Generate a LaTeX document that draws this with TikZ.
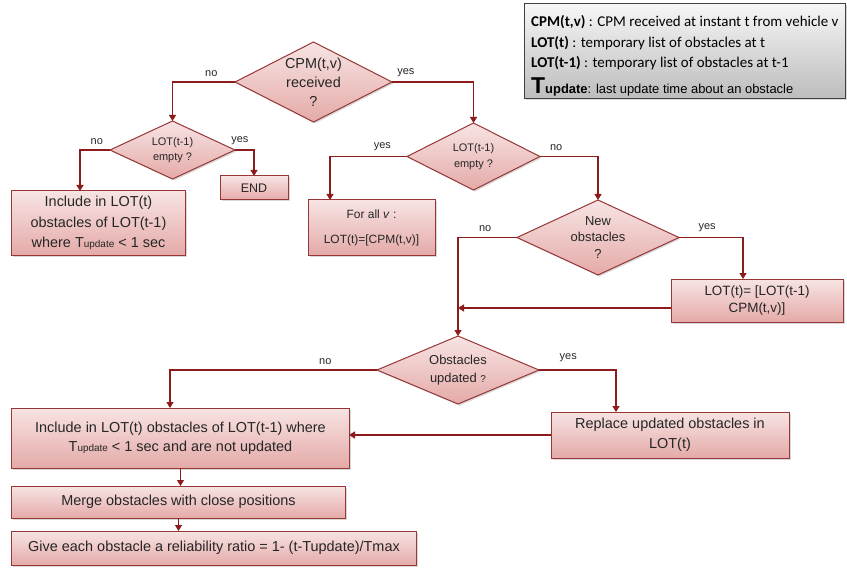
\documentclass[tikz,border=0pt]{standalone}
\usepackage{fontspec}
\setmainfont{Liberation Sans}
\newfontfamily\legendfont{Carlito}
\usetikzlibrary{shapes.geometric,arrows.meta,shadows}
\definecolor{boxline}{RGB}{150,55,53}
\definecolor{flowline}{RGB}{140,28,28}
\definecolor{boxtop}{RGB}{247,228,227}
\definecolor{boxbottom}{RGB}{228,170,168}
\definecolor{legtop}{RGB}{246,246,246}
\definecolor{legbottom}{RGB}{188,188,188}
\definecolor{txt}{RGB}{38,38,38}
\newcommand{\Tupd}{T{\fontsize{10}{10}\selectfont update}}

\begin{document}
\begin{tikzpicture}[x=1bp,y=-1bp,
        box/.style={rectangle, draw=boxline, line width=1bp,
            top color=boxtop, bottom color=boxbottom, text=txt,
            align=center, inner sep=0pt, outer sep=0pt,
            drop shadow={shadow xshift=1.5bp, shadow yshift=-1.5bp, opacity=.3}},
        decision/.style={box, diamond, aspect=2},
        flow/.style={draw=flowline, line width=1.2bp,
            -{Triangle[width=7bp,length=6bp]}},
        lbl/.style={text=txt, font=\fontsize{11}{11}\selectfont,
            inner sep=0pt, above=5bp},
        legendbox/.style={rectangle, draw=black!75, line width=1bp,
            top color=legtop, bottom color=legbottom,
            drop shadow={shadow xshift=1.5bp, shadow yshift=-1.5bp, opacity=.3}},
        legendtext/.style={anchor=base west, inner sep=0pt, text=black,
            font=\legendfont\fontsize{15}{15}\selectfont}]
    \useasboundingbox (0,0) rectangle (847,568);

    % Legend.
    \node[legendbox, minimum width=321bp, minimum height=95bp] (legend) at (684.5,51.5) {};
    \node[legendtext] (leg1) at (531,27)
        {\textbf{CPM(t,v)} : CPM received at instant t from vehicle v};
    \node[legendtext] (leg2) at (531,48)
        {\textbf{LOT(t)} : temporary list of obstacles at t};
    \node[legendtext] (leg3) at (531,68)
        {\textbf{LOT(t-1)} : temporary list of obstacles at t-1};
    \node[legendtext, font=\fontsize{13}{13}\selectfont] (leg4) at (531,94)
        {{\fontsize{23}{23}\selectfont\textbf{T}}\textbf{update}: last update time about an obstacle};

    % Decisions.
    \node[decision, minimum width=157bp, minimum height=80bp,
        font=\fontsize{14.5}{19}\selectfont] (recv) at (313.5,82) {CPM(t,v)\\received\\?};
    \node[decision, minimum width=125bp, minimum height=58bp,
        font=\fontsize{11}{15}\selectfont] (emptyA) at (172.5,150) {LOT(t-1)\\empty ?};
    \node[decision, minimum width=133bp, minimum height=67bp,
        font=\fontsize{11}{16}\selectfont] (emptyB) at (473.5,156.5) {LOT(t-1)\\empty ?};
    \node[decision, minimum width=162bp, minimum height=75bp,
        font=\fontsize{13}{16.5}\selectfont] (newobs) at (598,237.5) {New\\obstacles\\?};
    \node[decision, minimum width=162bp, minimum height=68bp,
        font=\fontsize{13}{18}\selectfont] (updobs) at (458,370)
        {Obstacles\\updated {\fontsize{10}{10}\selectfont ?}};

    % Actions.
    \node[box, minimum width=173bp, minimum height=64bp,
        font=\fontsize{14.5}{20.5}\selectfont] (keepold) at (98.5,223)
        {Include in LOT(t)\\obstacles of LOT(t-1)\\where \Tupd{} < 1 sec};
    \node[box, minimum width=68bp, minimum height=24bp,
        font=\fontsize{12.5}{12.5}\selectfont] (stop) at (254,188) {END};
    \node[box, minimum width=127bp, minimum height=55bp,
        font=\fontsize{12}{25}\selectfont] (forall) at (371.5,227.5)
        {For all \textit{v} :\\LOT(t)=[CPM(t,v)]};
    \node[box, minimum width=172bp, minimum height=43bp,
        font=\fontsize{13.5}{17}\selectfont] (addnew) at (757,300.5)
        {LOT(t)= [LOT(t-1)\\CPM(t,v)]};
    \node[box, minimum width=238bp, minimum height=46bp,
        font=\fontsize{14.5}{20}\selectfont] (replace) at (670,435)
        {Replace updated obstacles in\\LOT(t)};
    \node[box, minimum width=337bp, minimum height=60bp,
        font=\fontsize{14.5}{19}\selectfont] (keepall) at (180.5,438)
        {Include in LOT(t) obstacles of LOT(t-1) where\\\Tupd{} < 1 sec and are not updated};
    \node[box, minimum width=333bp, minimum height=32bp,
        font=\fontsize{14.5}{14.5}\selectfont] (merge) at (178.5,502)
        {Merge obstacles with close positions};
    \node[box, minimum width=404bp, minimum height=34bp,
        font=\fontsize{14.5}{14.5}\selectfont] (ratio) at (214,548)
        {Give each obstacle a reliability ratio = 1- (t-Tupdate)/Tmax};

    % Connectors.
    \draw[flow] (recv.west) -| node[lbl, pos=.19] {no} (emptyA.north);
    \draw[flow] (recv.east) -| node[lbl, pos=.085] {yes} (emptyB.north);
    \draw[flow] (emptyA.west) -| node[lbl, pos=.22] {no} ([xshift=-18.5bp]keepold.north);
    \draw[flow] (emptyA.east) -| node[lbl, pos=.13] {yes} (stop.north);
    \draw[flow] (emptyB.west) -| node[lbl, pos=.16] {yes} ([xshift=-41.5bp]forall.north);
    \draw[flow] (emptyB.east) -| node[lbl, pos=.14] {no} (newobs.north);
    \draw[flow] (newobs.west) -| node[lbl, pos=.27] {no} (updobs.north);
    \draw[flow] (newobs.east) -| node[lbl, pos=.22] {yes} ([xshift=-14bp]addnew.north);
    \draw[flow] ([yshift=-7.5bp]addnew.west) -- ([yshift=-7.5bp]addnew.west -| updobs.north);
    \draw[flow] (updobs.west) -| node[lbl, pos=.125] {no} ([xshift=-10.5bp]keepall.north);
    \draw[flow] (updobs.east) -| node[lbl, pos=.19, above=3bp] {yes} ([xshift=-54bp]replace.north);
    \draw[flow] (replace.west) -- (replace.west -| keepall.east);
    \draw[flow] (keepall.south) -- (keepall.south |- merge.north);
    \draw[flow] (merge.south) -- (merge.south |- ratio.north);
\end{tikzpicture}
\end{document}
